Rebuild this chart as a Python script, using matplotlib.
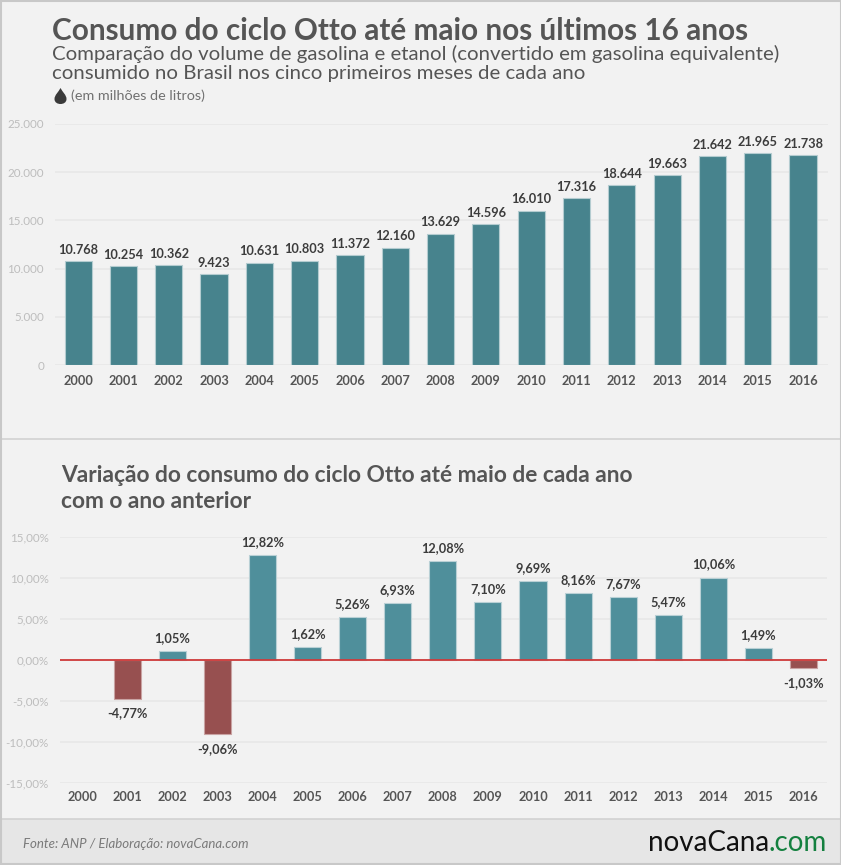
import numpy as np
import matplotlib
matplotlib.use("Agg")
import matplotlib.pyplot as plt
from matplotlib.patches import Rectangle, PathPatch
from matplotlib.path import Path

plt.rcParams['font.family'] = ['Lato', 'DejaVu Sans']

W, H = 841, 865

years = [2000, 2001, 2002, 2003, 2004, 2005, 2006, 2007, 2008, 2009, 2010, 2011, 2012, 2013, 2014, 2015, 2016]
consumo = [10768, 10254, 10362, 9423, 10631, 10803, 11372, 12160, 13629, 14596, 16010, 17316, 18644, 19663, 21642, 21965, 21738]
variacao = [np.nan, -4.77, 1.05, -9.06, 12.82, 1.62, 5.26, 6.93, 12.08, 7.10, 9.69, 8.16, 7.67, 5.47, 10.06, 1.49, -1.03]

consumo_ticks = [0, 5000, 10000, 15000, 20000, 25000]
variacao_ticks = [-15, -10, -5, 0, 5, 10, 15]

BG = '#f2f2f2'
TEAL1 = '#47838d'
TEAL2 = '#4f8f9b'
RED = '#975050'
GRID = '#e8e8e8'
TICK = '#bdbdbd'
DARK = '#555555'
LABEL = '#3c3c3c'


def br(v):
    return f'{v:,.0f}'.replace(',', '.')


def pct(v):
    return f'{v:.2f}'.replace('.', ',') + '%'


def axes_px(left, top, right, bottom):
    return fig.add_axes([left / W, 1 - bottom / H, (right - left) / W, (bottom - top) / H])


def txt(x, y, s, **kw):
    kw.setdefault('va', 'center')
    fig.text(x / W, 1 - y / H, s, **kw)


def style(ax):
    ax.set_facecolor('none')
    for s in ax.spines.values():
        s.set_visible(False)
    ax.grid(axis='y', color=GRID, lw=1.2)
    ax.set_axisbelow(True)
    ax.tick_params(length=0)
    ax.set_xticks(range(len(years)))
    ax.set_xticklabels(years, fontsize=9.2, fontweight='bold', color=DARK)


fig = plt.figure(figsize=(W / 100, H / 100), dpi=100, facecolor=BG)

# paineis e bordas
fig.patches.append(Rectangle((0, 0), 1, 46 / H, transform=fig.transFigure, fc='#e6e6e6', ec='none'))
for y in [439, 819]:
    fig.add_artist(plt.Line2D([0, 1], [1 - y / H] * 2, color='#d2d2d2', lw=1.2))
fig.add_artist(plt.Line2D([0, 1], [1 - 1 / H] * 2, color='#c8c8c8', lw=1.5))
fig.add_artist(plt.Line2D([0, 1], [1 - 863.5 / H] * 2, color='#c8c8c8', lw=1.5))
fig.add_artist(plt.Line2D([0.5 / W] * 2, [0, 1], color='#c8c8c8', lw=1.5))
fig.add_artist(plt.Line2D([1 - 0.5 / W] * 2, [0, 1], color='#c8c8c8', lw=1.5))

# titulos
txt(52, 31, 'Consumo do ciclo Otto até maio nos últimos 16 anos', fontsize=21.4, fontweight='bold', color=DARK)
txt(52, 54, 'Comparação do volume de gasolina e etanol (convertido em gasolina equivalente)', fontsize=14.7, color=DARK)
txt(52, 73, 'consumido no Brasil nos cinco primeiros meses de cada ano', fontsize=14.7, color=DARK)
txt(71, 96, '(em milhões de litros)', fontsize=10.4, color='#707070')
txt(61, 476, 'Variação do consumo do ciclo Otto até maio de cada ano', fontsize=16.4, fontweight='bold', color=DARK)
txt(61, 501, 'com o ano anterior', fontsize=16.4, fontweight='bold', color=DARK)

# gota
gx, gy = 60.5, 96
drop = [(0, -8), (2, -4), (6, -1), (6, 3), (6, 6.5), (3, 8), (0, 8), (-3, 8), (-6, 6.5), (-6, 3), (-6, -1), (-2, -4), (0, -8)]
codes = [Path.MOVETO] + [Path.CURVE4] * 12
verts = [((gx + dx) / W, 1 - (gy + dy) / H) for dx, dy in drop]
fig.patches.append(PathPatch(Path(verts, codes), transform=fig.transFigure, fc='#3a3a3a', ec='none'))

# grafico de cima
ax1 = axes_px(55, 124, 828, 365)
style(ax1)
ax1.bar(range(len(years)), consumo, width=0.6, color=TEAL1, edgecolor='#b4ccd0', linewidth=0.8)
ax1.set_xlim(-0.51, 16.55)
ax1.set_ylim(0, 25000)
ax1.set_yticks(consumo_ticks)
ax1.set_yticklabels([br(v) for v in consumo_ticks], fontsize=8.4, color=TICK)
ax1.tick_params(axis='y', pad=8)
ax1.tick_params(axis='x', pad=7.5)
for i, v in enumerate(consumo):
    ax1.annotate(br(v), (i, v), xytext=(0, 4), textcoords='offset points', ha='center', va='bottom',
                 fontsize=9.2, fontweight='bold', color=LABEL)

# grafico de baixo
ax2 = axes_px(60, 537, 827, 783)
style(ax2)
cores = [RED if v < 0 else TEAL2 for v in variacao]
bordas = ['#c9a3a3' if v < 0 else '#b9d0d5' for v in variacao]
ax2.bar(range(len(years)), variacao, width=0.6, color=cores, edgecolor=bordas, linewidth=0.8)
ax2.axhline(0, color='#cf3a3a', lw=1.3, zorder=4)
ax2.set_xlim(-0.49, 16.52)
ax2.set_ylim(-15, 15)
ax2.set_yticks(variacao_ticks)
ax2.set_yticklabels([pct(v) for v in variacao_ticks], fontsize=8.4, color=TICK)
ax2.tick_params(axis='y', pad=8)
ax2.tick_params(axis='x', pad=6)
for i, v in enumerate(variacao):
    if np.isnan(v):
        continue
    off, va = (5, 'bottom') if v >= 0 else (-6, 'top')
    ax2.annotate(pct(v), (i, v), xytext=(0, off), textcoords='offset points', ha='center', va=va,
                 fontsize=9.2, fontweight='bold', color=LABEL)

# rodape
txt(23, 844, 'Fonte: ANP / Elaboração: novaCana.com', fontsize=9.55, style='italic', color='#7a7a7a')
txt(648, 843, 'novaCana', fontsize=20, color='#111111', ha='left')
txt(768, 843, '.com', fontsize=20, color='#14803f', ha='left')

fig.savefig('out.png', dpi=100, facecolor=BG)
